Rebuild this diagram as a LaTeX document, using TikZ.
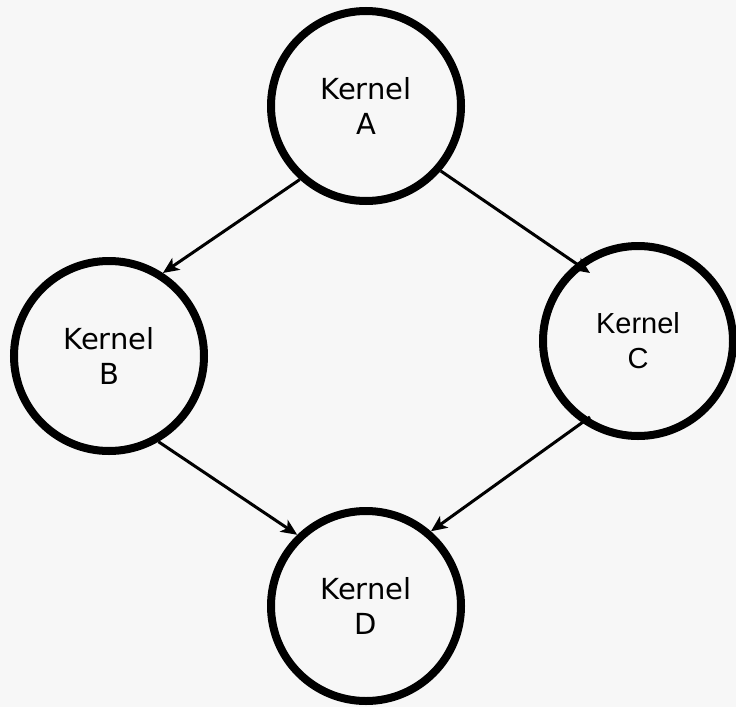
\documentclass[tikz,border=0pt]{standalone}
\usepackage{fontspec}
\setmainfont{DejaVu Sans}
\newfontfamily\arialfont{Liberation Sans}
\usetikzlibrary{arrows.meta,calc}

\begin{document}
\begin{tikzpicture}[x=1pt,y=1pt,
  kernel/.style={circle, draw=black, line width=8pt, minimum size=190pt,
    inner sep=0pt, align=center, fill=none,
    font=\fontsize{29}{35}\selectfont},
  flow/.style={line width=3pt, draw=black,
    -{Stealth[length=16pt,width=14pt,inset=4pt]}}]

  % page and background
  \fill[fill={rgb,255:red,247;green,247;blue,247}] (0,0) rectangle (736,-707);
  \useasboundingbox (0,0) rectangle (736,-707);

  % kernels
  \node[kernel] (A) at (366,-106) {Kernel\\A};
  \node[kernel] (B) at (109,-356) {Kernel\\B};
  \node[kernel, font=\arialfont\fontsize{29}{35}\selectfont] (C) at (638,-341) {Kernel\\C};
  \node[kernel] (D) at (366,-606) {Kernel\\D};

  % dependencies
  \draw[flow] (A.228.3) -- (B.57.9);
  \draw[flow] (A.-41) -- ($(C.center)+(-48,68)$);
  \draw[flow] (B.-60.3) -- (D.134);
  \draw[flow] ($(C.center)+(-48,-76)$) -- (D.49);
\end{tikzpicture}
\end{document}
